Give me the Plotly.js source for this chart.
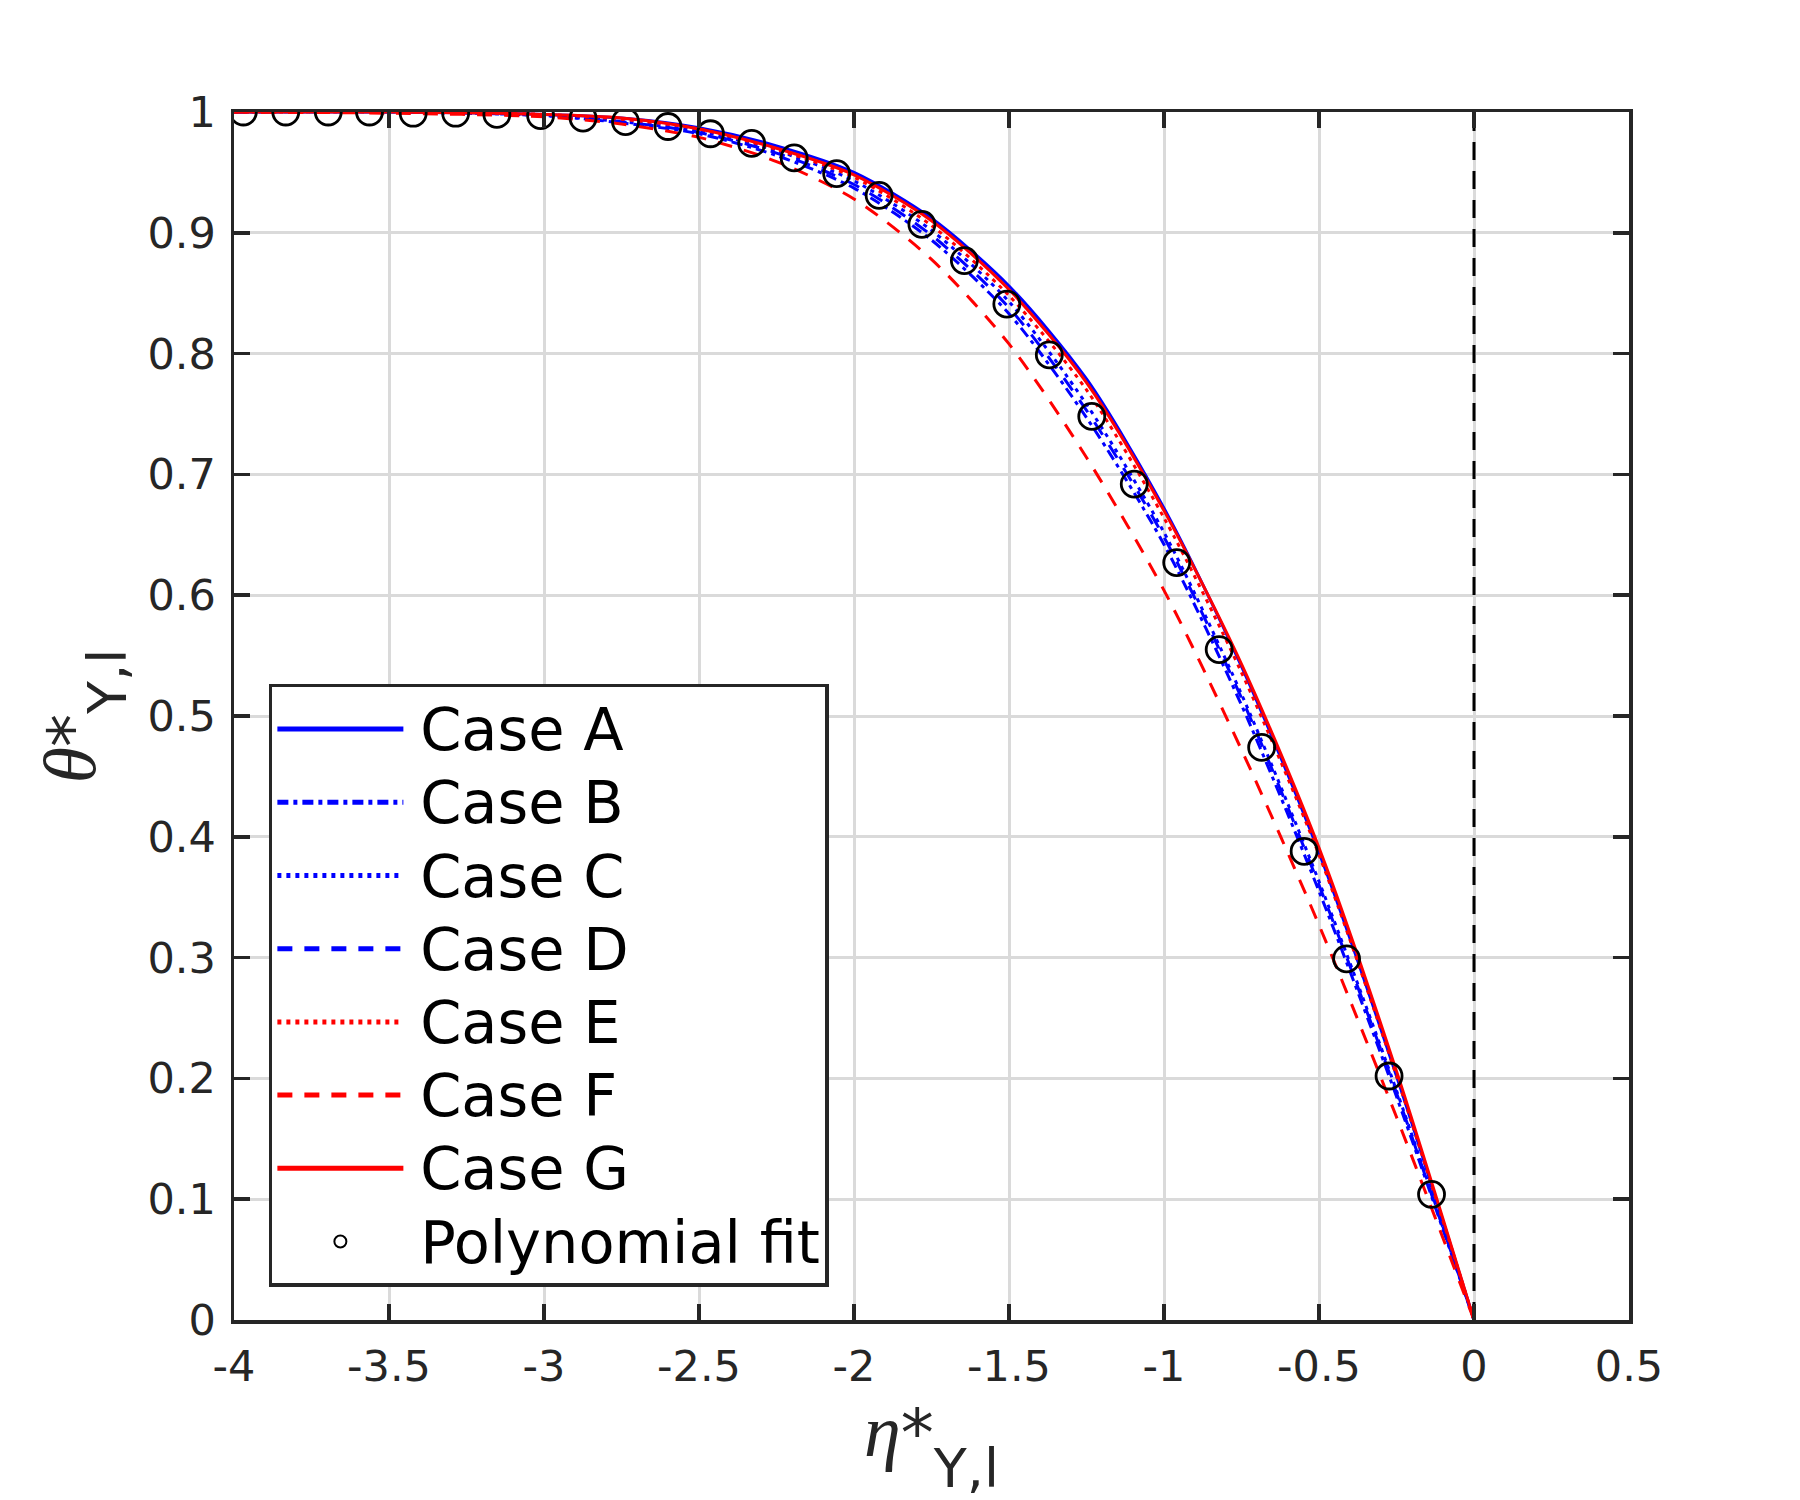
<!DOCTYPE html>
<html>
<head>
<meta charset="utf-8">
<script src="https://cdn.plot.ly/plotly-3.0.1.min.js"></script>
<style>
  html, body { margin: 0; padding: 0; background: white; }
  #grafico { width: 1800px; height: 1500px; }
</style>
</head>
<body>
<div id="grafico"></div>
<script>
// eta*_{Y,l} sample points for the curves
var etaCase = [-4, -3.5, -3, -2.75, -2.5, -2.25, -2, -1.75, -1.5, -1.25, -1, -0.75, -0.5, -0.25, 0];

// theta*_{Y,l} for each case
var caseA = [1.000, 1.000, 0.998, 0.995, 0.987, 0.972, 0.950, 0.912, 0.856, 0.779, 0.672, 0.541, 0.387, 0.202, 0];
var caseB = [1.000, 1.000, 0.997, 0.991, 0.982, 0.964, 0.937, 0.894, 0.833, 0.747, 0.642, 0.509, 0.355, 0.185, 0];
var caseC = [1.000, 1.000, 0.997, 0.992, 0.984, 0.968, 0.943, 0.902, 0.843, 0.758, 0.652, 0.518, 0.363, 0.190, 0];
var caseD = [1.000, 1.000, 0.997, 0.992, 0.983, 0.966, 0.940, 0.898, 0.838, 0.753, 0.648, 0.515, 0.360, 0.188, 0];
var caseE = [1.000, 1.000, 0.998, 0.994, 0.986, 0.969, 0.946, 0.906, 0.848, 0.770, 0.664, 0.536, 0.385, 0.202, 0];
var caseF = [1.000, 0.999, 0.996, 0.990, 0.979, 0.959, 0.928, 0.878, 0.808, 0.714, 0.604, 0.472, 0.327, 0.168, 0];
var caseG = [1.000, 1.000, 0.998, 0.995, 0.986, 0.970, 0.948, 0.910, 0.853, 0.776, 0.670, 0.543, 0.391, 0.206, 0];

// polynomial fit markers
var etaFit = [-3.970, -3.833, -3.696, -3.563, -3.422, -3.285, -3.152, -3.011, -2.874, -2.737,
              -2.600, -2.463, -2.330, -2.193, -2.056, -1.919, -1.781, -1.644, -1.507, -1.370,
              -1.233, -1.096, -0.959, -0.822, -0.685, -0.548, -0.411, -0.274, -0.137];
var thetaFit = [1.000, 1.000, 1.000, 1.000, 0.999, 0.999, 0.998, 0.997, 0.995, 0.992,
                0.988, 0.982, 0.974, 0.962, 0.949, 0.931, 0.907, 0.877, 0.841, 0.799,
                0.748, 0.692, 0.627, 0.555, 0.474, 0.388, 0.299, 0.202, 0.104];

// interface line
var etaZero = [0, 0];
var thetaZero = [0, 1];

var xTickVals = [-4, -3.5, -3, -2.5, -2, -1.5, -1, -0.5, 0, 0.5];
var xTickText = ['-4', '-3.5', '-3', '-2.5', '-2', '-1.5', '-1', '-0.5', '0', '0.5'];
var yTickVals = [0, 0.1, 0.2, 0.3, 0.4, 0.5, 0.6, 0.7, 0.8, 0.9, 1];
var yTickText = ['0', '0.1', '0.2', '0.3', '0.4', '0.5', '0.6', '0.7', '0.8', '0.9', '1'];

var blue = '#0000ff';
var red = '#ff0000';
var lw = 3;

// legend text is drawn a bit larger than the row spacing font
function legendName(s) {
  return '<span style="font-size:59px">\u2009' + s + '</span>';
}

function curve(y, name, color, dash) {
  return {
    x: etaCase,
    y: y,
    name: legendName(name),
    type: 'scatter',
    mode: 'lines',
    line: {color: color, width: lw, dash: dash, shape: 'spline', smoothing: 0.8}
  };
}

var data = [
  curve(caseA, 'Case A', blue, 'solid'),
  curve(caseB, 'Case B', blue, '11px,5px,4px,5px'),
  curve(caseC, 'Case C', blue, '4px,5px'),
  curve(caseD, 'Case D', blue, '15px,12px'),
  curve(caseE, 'Case E', red, '4px,5px'),
  curve(caseF, 'Case F', red, '15px,12px'),
  curve(caseG, 'Case G', red, 'solid'),
  {
    x: etaZero,
    y: thetaZero,
    type: 'scatter',
    mode: 'lines',
    showlegend: false,
    hoverinfo: 'skip',
    line: {color: 'black', width: 3, dash: '18px,11px'}
  },
  {
    x: etaFit,
    y: thetaFit,
    name: legendName('Polynomial fit'),
    type: 'scatter',
    mode: 'markers',
    marker: {symbol: 'circle-open', size: 26, color: 'black', line: {width: 2.8, color: 'black'}}
  }
];

var axisColor = '#262626';

function axisTitle(sym) {
  return '<span style="font-family:Liberation Serif;font-size:74px"><i>' + sym + '</i></span>' +
    '<span style="font-size:66px">*</span>' +
    '<sub><sub><sub><sub><span style="font-size:54px">Y,l</span></sub></sub></sub></sub>';
}

var layout = {
  width: 1800,
  height: 1500,
  margin: {l: 234, r: 171, t: 112, b: 180},
  paper_bgcolor: 'white',
  plot_bgcolor: 'white',
  font: {family: 'DejaVu Sans', color: axisColor},
  showlegend: true,
  xaxis: {
    range: [-4, 0.5],
    tickvals: xTickVals,
    ticktext: xTickText,
    ticks: 'inside',
    ticklen: 16,
    tickwidth: 3.5,
    tickcolor: axisColor,
    showline: true,
    mirror: 'ticks',
    linewidth: 3.5,
    linecolor: axisColor,
    showgrid: true,
    gridcolor: '#dadada',
    gridwidth: 3,
    zeroline: false,
    tickfont: {size: 43, color: axisColor},
    ticklabelstandoff: 6,
    title: {
      text: axisTitle('η'),
      font: {size: 58, color: axisColor, family: 'DejaVu Sans'},
      standoff: 12
    }
  },
  yaxis: {
    range: [0, 1],
    tickvals: yTickVals,
    ticktext: yTickText,
    ticks: 'inside',
    ticklen: 16,
    tickwidth: 3.5,
    tickcolor: axisColor,
    showline: true,
    mirror: 'ticks',
    linewidth: 3.5,
    linecolor: axisColor,
    showgrid: true,
    gridcolor: '#dadada',
    gridwidth: 3,
    zeroline: false,
    tickfont: {size: 43, color: axisColor},
    ticklabelstandoff: 6,
    title: {
      text: axisTitle('θ'),
      font: {size: 58, color: axisColor, family: 'DejaVu Sans'},
      standoff: 34
    }
  },
  legend: {
    x: 0.025,
    y: 0.5265,
    xanchor: 'left',
    yanchor: 'top',
    bgcolor: 'white',
    bordercolor: axisColor,
    borderwidth: 3.5,
    itemwidth: 126,
    itemsizing: 'constant',
    tracegroupgap: 0,
    font: {size: 54, color: 'black', family: 'DejaVu Sans'}
  }
};

Plotly.newPlot('grafico', data, layout, {staticPlot: true});
</script>
</body>
</html>
